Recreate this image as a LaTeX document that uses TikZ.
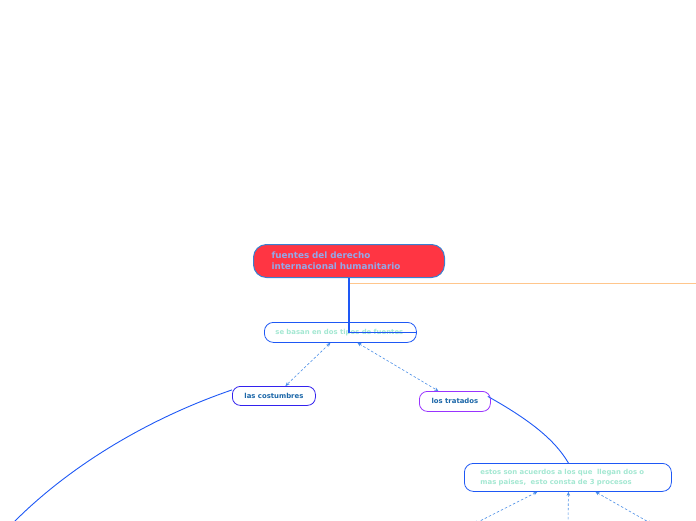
\documentclass[tikz,border=0pt]{standalone}
\usepackage{fontspec}
\setmainfont{DejaVu Sans}
\usetikzlibrary{arrows.meta}
\definecolor{rootfill}{HTML}{FF3543}
\definecolor{rootdraw}{HTML}{3A80D0}
\definecolor{roottext}{HTML}{94A8E8}
\definecolor{mainblue}{HTML}{1E58F5}
\definecolor{lightteal}{HTML}{A4E8D2}
\definecolor{dashblue}{HTML}{4A8EE6}
\definecolor{costdraw}{HTML}{3322EE}
\definecolor{tratdraw}{HTML}{9933FF}
\definecolor{darktext}{HTML}{1A66A8}
\definecolor{orangeline}{HTML}{FFC68C}
\tikzset{
  rootbox/.style={draw=rootdraw, fill=rootfill, line width=1pt, rounded corners=13pt,
    minimum width=191pt, minimum height=33pt, text width=155pt, inner xsep=18pt,
    align=left, font=\bfseries\fontsize{8.8}{11}\selectfont, text=roottext, anchor=north west},
  subbox/.style={draw=mainblue, fill=white, line width=0.8pt, rounded corners=9pt,
    minimum height=20pt, align=left, font=\bfseries\fontsize{6.9}{9.5}\selectfont,
    text=lightteal, anchor=north west},
  leafbox/.style={fill=white, line width=0.8pt, rounded corners=8pt,
    minimum height=19pt, align=center, font=\bfseries\fontsize{6.9}{8}\selectfont,
    text=darktext, anchor=north west},
  dasharrow/.style={draw=dashblue, line width=0.6pt, dash pattern=on 2.5pt off 2pt,
    {Stealth[length=4pt,width=3.5pt]}-{Stealth[length=4pt,width=3.5pt]}},
  curveline/.style={draw=mainblue, line width=0.9pt},
  mainline/.style={draw=mainblue, line width=1.2pt},
  orangestyle/.style={draw=orangeline, line width=1pt}
}
\begin{document}
\begin{tikzpicture}[x=1pt,y=-1pt]
\useasboundingbox (0,0) rectangle (696,520);
% orange line
\coordinate (oL) at (350,283);
\coordinate (oR) at (696,283);
\draw[orangestyle] (oL) -- (oR);
% nodes
\node[rootbox] (root) at (253,244) {fuentes del derecho\\internacional humanitario};
\node[subbox, minimum width=152pt, text width=130pt, inner xsep=11pt] (sebasan) at (264,322) {se basan en dos tipos de fuentes};
\node[leafbox, draw=costdraw, minimum width=83pt] (cost) at (232,386) {las costumbres};
\node[leafbox, draw=tratdraw, minimum width=71pt, minimum height=20pt] (trat) at (419,391) {los tratados};
\node[subbox, minimum width=207pt, minimum height=28pt, text width=175pt, inner xsep=16pt] (estos) at (464,463) {estos son acuerdos a los que\ \ llegan dos o\\mas paises,\ \ esto consta de 3 procesos};
% main connector
\draw[mainline] (root.south) |- (sebasan.east);
% dashed arrows
\draw[dasharrow] ([xshift=-10pt]sebasan.south) -- ([xshift=11.5pt]cost.north);
\draw[dasharrow] ([xshift=17pt]sebasan.south) -- ([xshift=-16.5pt]trat.north);
% curves
\coordinate (cEnd) at (12,524);
\draw[curveline] ([yshift=6pt]cost.west) .. controls (150,418) and (70,465) .. (cEnd);
\draw[curveline] ([xshift=-3pt,yshift=5pt]trat.east) .. controls (530,420) and (555,440) .. ([xshift=0.5pt]estos.north);
% bottom dashed arrows
\coordinate (b1) at (474,524);
\coordinate (b2) at (568,526);
\coordinate (b3) at (652,524);
\draw[dasharrow] ([xshift=-30.5pt]estos.south) -- (b1);
\draw[dasharrow] ([xshift=0.5pt]estos.south) -- (b2);
\draw[dasharrow] ([xshift=27.5pt]estos.south) -- (b3);
\end{tikzpicture}
\end{document}
